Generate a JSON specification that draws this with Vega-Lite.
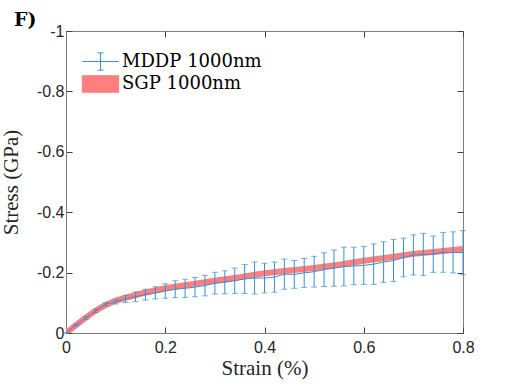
{
  "$schema": "https://vega.github.io/schema/vega-lite/v6.json",
  "width": 397,
  "height": 302,
  "autosize": "none",
  "padding": {"left": 66, "top": 31, "right": 49, "bottom": 51},
  "title": {"text": "F)", "anchor": "start", "frame": "group", "dx": -52, "dy": 10, "offset": 3, "font": "DejaVu Serif", "fontWeight": "bold", "fontSize": 19, "color": "#000000"},
  "config": {
    "view": {"stroke": "#808080", "strokeWidth": 1},
    "axis": {"domainColor": "#808080", "tickColor": "#404040", "tickWidth": 1, "grid": false, "labelFont": "Liberation Sans", "labelFontSize": 16, "labelColor": "#262626", "titleFontWeight": "normal", "titleColor": "#262626", "tickSize": -6}
  },
  "data": {"values": [
    {"series": "MDDP 1000nm", "strain": 0.00, "stress": 0.000, "lo": 0.000, "hi": 0.000},
    {"series": "MDDP 1000nm", "strain": 0.02, "stress": -0.026, "lo": -0.028, "hi": -0.024},
    {"series": "MDDP 1000nm", "strain": 0.04, "stress": -0.050, "lo": -0.055, "hi": -0.045},
    {"series": "MDDP 1000nm", "strain": 0.06, "stress": -0.073, "lo": -0.078, "hi": -0.068},
    {"series": "MDDP 1000nm", "strain": 0.08, "stress": -0.095, "lo": -0.100, "hi": -0.090},
    {"series": "MDDP 1000nm", "strain": 0.10, "stress": -0.103, "lo": -0.110, "hi": -0.096},
    {"series": "MDDP 1000nm", "strain": 0.12, "stress": -0.113, "lo": -0.125, "hi": -0.101},
    {"series": "MDDP 1000nm", "strain": 0.14, "stress": -0.120, "lo": -0.136, "hi": -0.104},
    {"series": "MDDP 1000nm", "strain": 0.16, "stress": -0.127, "lo": -0.145, "hi": -0.109},
    {"series": "MDDP 1000nm", "strain": 0.18, "stress": -0.133, "lo": -0.153, "hi": -0.113},
    {"series": "MDDP 1000nm", "strain": 0.20, "stress": -0.139, "lo": -0.163, "hi": -0.115},
    {"series": "MDDP 1000nm", "strain": 0.22, "stress": -0.145, "lo": -0.173, "hi": -0.117},
    {"series": "MDDP 1000nm", "strain": 0.24, "stress": -0.148, "lo": -0.178, "hi": -0.118},
    {"series": "MDDP 1000nm", "strain": 0.26, "stress": -0.152, "lo": -0.184, "hi": -0.120},
    {"series": "MDDP 1000nm", "strain": 0.28, "stress": -0.157, "lo": -0.191, "hi": -0.123},
    {"series": "MDDP 1000nm", "strain": 0.30, "stress": -0.165, "lo": -0.201, "hi": -0.129},
    {"series": "MDDP 1000nm", "strain": 0.32, "stress": -0.168, "lo": -0.206, "hi": -0.130},
    {"series": "MDDP 1000nm", "strain": 0.34, "stress": -0.173, "lo": -0.215, "hi": -0.131},
    {"series": "MDDP 1000nm", "strain": 0.36, "stress": -0.179, "lo": -0.227, "hi": -0.131},
    {"series": "MDDP 1000nm", "strain": 0.38, "stress": -0.182, "lo": -0.235, "hi": -0.129},
    {"series": "MDDP 1000nm", "strain": 0.40, "stress": -0.182, "lo": -0.231, "hi": -0.133},
    {"series": "MDDP 1000nm", "strain": 0.42, "stress": -0.185, "lo": -0.235, "hi": -0.135},
    {"series": "MDDP 1000nm", "strain": 0.44, "stress": -0.195, "lo": -0.245, "hi": -0.145},
    {"series": "MDDP 1000nm", "strain": 0.46, "stress": -0.194, "lo": -0.240, "hi": -0.148},
    {"series": "MDDP 1000nm", "strain": 0.48, "stress": -0.199, "lo": -0.247, "hi": -0.151},
    {"series": "MDDP 1000nm", "strain": 0.50, "stress": -0.203, "lo": -0.254, "hi": -0.152},
    {"series": "MDDP 1000nm", "strain": 0.52, "stress": -0.210, "lo": -0.266, "hi": -0.154},
    {"series": "MDDP 1000nm", "strain": 0.54, "stress": -0.215, "lo": -0.275, "hi": -0.155},
    {"series": "MDDP 1000nm", "strain": 0.56, "stress": -0.220, "lo": -0.284, "hi": -0.156},
    {"series": "MDDP 1000nm", "strain": 0.58, "stress": -0.222, "lo": -0.284, "hi": -0.160},
    {"series": "MDDP 1000nm", "strain": 0.60, "stress": -0.224, "lo": -0.287, "hi": -0.161},
    {"series": "MDDP 1000nm", "strain": 0.62, "stress": -0.228, "lo": -0.295, "hi": -0.161},
    {"series": "MDDP 1000nm", "strain": 0.64, "stress": -0.235, "lo": -0.302, "hi": -0.168},
    {"series": "MDDP 1000nm", "strain": 0.66, "stress": -0.240, "lo": -0.310, "hi": -0.170},
    {"series": "MDDP 1000nm", "strain": 0.68, "stress": -0.250, "lo": -0.314, "hi": -0.186},
    {"series": "MDDP 1000nm", "strain": 0.70, "stress": -0.258, "lo": -0.325, "hi": -0.192},
    {"series": "MDDP 1000nm", "strain": 0.72, "stress": -0.260, "lo": -0.330, "hi": -0.190},
    {"series": "MDDP 1000nm", "strain": 0.74, "stress": -0.261, "lo": -0.321, "hi": -0.201},
    {"series": "MDDP 1000nm", "strain": 0.76, "stress": -0.267, "lo": -0.333, "hi": -0.201},
    {"series": "MDDP 1000nm", "strain": 0.78, "stress": -0.267, "lo": -0.335, "hi": -0.199},
    {"series": "MDDP 1000nm", "strain": 0.80, "stress": -0.266, "lo": -0.339, "hi": -0.193},
    {"series": "SGP 1000nm", "strain": 0.00, "stress": 0.000},
    {"series": "SGP 1000nm", "strain": 0.02, "stress": -0.026},
    {"series": "SGP 1000nm", "strain": 0.04, "stress": -0.051},
    {"series": "SGP 1000nm", "strain": 0.06, "stress": -0.074},
    {"series": "SGP 1000nm", "strain": 0.08, "stress": -0.093},
    {"series": "SGP 1000nm", "strain": 0.10, "stress": -0.107},
    {"series": "SGP 1000nm", "strain": 0.15, "stress": -0.130},
    {"series": "SGP 1000nm", "strain": 0.20, "stress": -0.148},
    {"series": "SGP 1000nm", "strain": 0.25, "stress": -0.161},
    {"series": "SGP 1000nm", "strain": 0.30, "stress": -0.173},
    {"series": "SGP 1000nm", "strain": 0.35, "stress": -0.185},
    {"series": "SGP 1000nm", "strain": 0.40, "stress": -0.198},
    {"series": "SGP 1000nm", "strain": 0.45, "stress": -0.207},
    {"series": "SGP 1000nm", "strain": 0.50, "stress": -0.215},
    {"series": "SGP 1000nm", "strain": 0.55, "stress": -0.226},
    {"series": "SGP 1000nm", "strain": 0.60, "stress": -0.239},
    {"series": "SGP 1000nm", "strain": 0.65, "stress": -0.250},
    {"series": "SGP 1000nm", "strain": 0.70, "stress": -0.262},
    {"series": "SGP 1000nm", "strain": 0.75, "stress": -0.270},
    {"series": "SGP 1000nm", "strain": 0.80, "stress": -0.278}
  ]},
  "resolve": {"axis": {"x": "independent", "y": "independent"}},
  "layer": [
    {
      "transform": [{"filter": "datum.series == 'SGP 1000nm'"}],
      "mark": {"type": "line", "strokeWidth": 6, "clip": true},
      "encoding": {
        "x": {"field": "strain", "type": "quantitative", "title": "Strain (%)", "scale": {"domain": [0, 0.8], "nice": false, "zero": false}, "axis": {"values": [0, 0.2, 0.4, 0.6, 0.8], "format": "~g", "labelPadding": 12, "titlePadding": 2, "labelFlush": false, "titleFont": "Liberation Serif", "titleFontSize": 21}},
        "y": {"field": "stress", "type": "quantitative", "title": "Stress (GPa)", "scale": {"domain": [-1, 0], "reverse": true, "nice": false, "zero": false}, "axis": {"values": [-1, -0.8, -0.6, -0.4, -0.2, 0], "labelExpr": "datum.value == 0 ? '0' : '-' + format(-datum.value, '~g')", "labelPadding": 8, "titlePadding": 15, "labelFlush": false, "titleFont": "Liberation Serif", "titleFontSize": 21}},
        "color": {"field": "series", "type": "nominal", "scale": {"domain": ["MDDP 1000nm", "SGP 1000nm"], "range": ["#3a8fd0", "#FF7F7F"]},
          "legend": {"title": null, "orient": "none", "legendX": 25, "legendY": 21, "padding": 0, "symbolSize": 300, "labelFont": "DejaVu Serif", "labelFontSize": 18, "labelColor": "#000000", "labelOffset": 12, "rowPadding": 0.5,
            "encode": {"symbols": {"update": {
              "shape": {"signal": "datum.value == 'SGP 1000nm' ? 'M-2.1,-0.95H2.1V0.95H-2.1Z' : 'M-2.1,0H2.1M0,-1V1M-0.35,-1H0.35M-0.35,1H0.35'"},
              "fill": {"signal": "datum.value == 'SGP 1000nm' ? '#FF7F7F' : 'transparent'"},
              "stroke": {"signal": "datum.value == 'SGP 1000nm' ? 'transparent' : '#3a8fd0'"},
              "strokeWidth": {"value": 1},
              "opacity": {"value": 1}
            }}}}}
      }
    },
    {
      "transform": [{"filter": "datum.series == 'MDDP 1000nm'"}],
      "mark": {"type": "errorbar", "ticks": {"size": 6}, "color": "#3a8fd0", "thickness": 1},
      "encoding": {
        "x": {"field": "strain", "type": "quantitative", "axis": {"orient": "top", "title": null, "labels": false, "values": [0, 0.2, 0.4, 0.6, 0.8], "domain": false}},
        "y": {"field": "lo", "type": "quantitative", "axis": {"orient": "right", "title": null, "labels": false, "values": [-1, -0.8, -0.6, -0.4, -0.2, 0], "domain": false}},
        "y2": {"field": "hi"}
      }
    },
    {
      "transform": [{"filter": "datum.series == 'MDDP 1000nm'"}],
      "mark": {"type": "line", "strokeWidth": 1},
      "encoding": {
        "x": {"field": "strain", "type": "quantitative", "axis": null},
        "y": {"field": "stress", "type": "quantitative", "axis": null},
        "color": {"field": "series", "type": "nominal", "legend": null}
      }
    }
  ]
}
